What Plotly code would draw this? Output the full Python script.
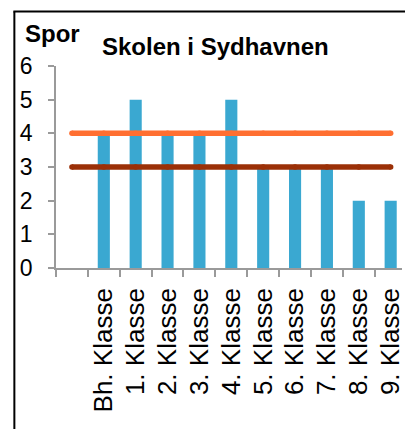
import plotly.graph_objects as go

# Number of tracks (spor) per grade at the school
classes = ["Bh. Klasse", "1. Klasse", "2. Klasse", "3. Klasse", "4. Klasse",
           "5. Klasse", "6. Klasse", "7. Klasse", "8. Klasse", "9. Klasse"]
spor = [4, 5, 4, 4, 5, 3, 3, 3, 2, 2]

# Category slots: one blank slot in front of the grades
slots = [" "] + classes
upper_level = [4, 4, 4, 4, 4, 4, 4, 4, 4, 4, 4]
lower_level = [3, 3, 3, 3, 3, 3, 3, 3, 3, 3, 3]

BAR = "#3AA8D1"
ORANGE = "#FF6F31"
DARKRED = "#9B3007"
AXIS = "#9A9A9A"
FONT = "Liberation Sans, Arial, sans-serif"

W, H = 405, 429
ML, MR, MT, MB = 56, 0, 66, 161
PW = W - ML - MR
PH = H - MT - MB
SLOT = 32.15


def px_x(p):
    return (p - ML) / PW


def px_y(p):
    return (H - MB - p) / PH


fig = go.Figure()

fig.add_trace(go.Bar(
    x=classes, y=spor, width=0.38,
    marker=dict(color=BAR, line=dict(width=0)),
))

for level, color in ((upper_level, ORANGE), (lower_level, DARKRED)):
    fig.add_trace(go.Scatter(
        x=slots, y=level, mode="lines+markers",
        line=dict(color=color, width=5.5),
        marker=dict(color=color, size=5.5, line=dict(width=0)),
    ))

fig.update_layout(
    width=W, height=H,
    margin=dict(l=ML, r=MR, t=MT, b=MB, pad=0),
    paper_bgcolor="white", plot_bgcolor="white",
    showlegend=False,
    font=dict(family=FONT, color="black"),
    xaxis=dict(
        type="category", categoryorder="array", categoryarray=slots,
        range=[-0.5, -0.5 + PW / SLOT],
        showline=True, linecolor=AXIS, linewidth=1.5,
        ticks="outside", tickson="boundaries", ticklen=7,
        tickcolor=AXIS, tickwidth=1.5,
        tickangle=-90, tickfont=dict(size=26, color="black"),
        ticklabelstandoff=8,
        showgrid=False, zeroline=False, fixedrange=True,
    ),
    yaxis=dict(
        range=[0, 6], dtick=1, tick0=0,
        showline=True, linecolor=AXIS, linewidth=1.5,
        ticks="outside", ticklen=6, tickcolor=AXIS, tickwidth=1.5,
        tickfont=dict(size=23, color="black"),
        ticklabelstandoff=11,
        showgrid=False, zeroline=False, fixedrange=True,
    ),
    annotations=[
        dict(text="<b>Spor</b>", xref="paper", yref="paper",
             x=px_x(23), y=px_y(33.4), xanchor="left", yanchor="middle",
             showarrow=False, font=dict(size=24, color="black", family=FONT)),
        dict(text="<b>Skolen i Sydhavnen</b>", xref="paper", yref="paper",
             x=px_x(216.5), y=px_y(46.3), xanchor="center", yanchor="middle",
             showarrow=False, font=dict(size=24, color="black", family=FONT)),
    ],
    shapes=[
        dict(type="line", xref="paper", yref="paper",
             x0=px_x(14), x1=px_x(14), y0=px_y(11.5), y1=px_y(440),
             line=dict(color="black", width=2)),
        dict(type="line", xref="paper", yref="paper",
             x0=px_x(13), x1=px_x(420), y0=px_y(11.5), y1=px_y(11.5),
             line=dict(color="black", width=2)),
    ],
)

fig.write_html("out.html")
